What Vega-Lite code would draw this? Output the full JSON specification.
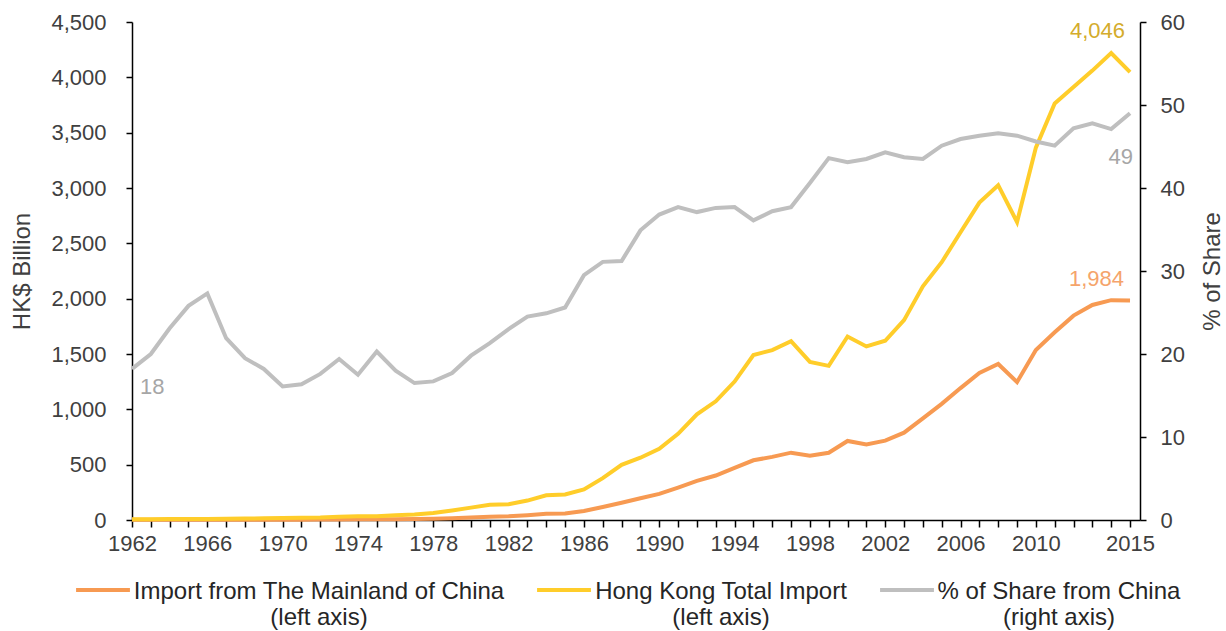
{
  "$schema": "https://vega.github.io/schema/vega-lite/v6.json",
  "width": 1008,
  "height": 498,
  "autosize": {"type": "none"},
  "padding": {"left": 132, "top": 22, "right": 86, "bottom": 111},
  "background": "white",
  "config": {
    "view": {"stroke": null},
    "font": "Liberation Sans",
    "axis": {
      "grid": false,
      "domainColor": "#000000",
      "domainWidth": 1.5,
      "tickColor": "#000000",
      "tickWidth": 1.5,
      "labelColor": "#404040",
      "labelFontSize": 22,
      "titleColor": "#404040",
      "titleFontSize": 24,
      "titleFontWeight": "normal"
    }
  },
  "data": {
    "values": [
      {"year": 1962, "china": 1.2, "total": 6.7, "share": 18.2},
      {"year": 1963, "china": 1.5, "total": 7.4, "share": 20.0},
      {"year": 1964, "china": 2.0, "total": 8.6, "share": 23.1},
      {"year": 1965, "china": 2.3, "total": 9.0, "share": 25.8},
      {"year": 1966, "china": 2.8, "total": 10.1, "share": 27.3},
      {"year": 1967, "china": 2.3, "total": 10.4, "share": 21.9},
      {"year": 1968, "china": 2.4, "total": 12.5, "share": 19.5},
      {"year": 1969, "china": 2.7, "total": 15.0, "share": 18.2},
      {"year": 1970, "china": 2.8, "total": 17.6, "share": 16.1},
      {"year": 1971, "china": 3.3, "total": 20.3, "share": 16.35},
      {"year": 1972, "china": 3.8, "total": 21.8, "share": 17.6},
      {"year": 1973, "china": 5.6, "total": 29.0, "share": 19.4},
      {"year": 1974, "china": 6.0, "total": 34.1, "share": 17.5},
      {"year": 1975, "china": 6.8, "total": 33.5, "share": 20.3},
      {"year": 1976, "china": 7.8, "total": 43.3, "share": 18.0},
      {"year": 1977, "china": 8.0, "total": 48.7, "share": 16.5},
      {"year": 1978, "china": 10.5, "total": 63.1, "share": 16.7},
      {"year": 1979, "china": 15.1, "total": 85.8, "share": 17.7},
      {"year": 1980, "china": 21.9, "total": 111.7, "share": 19.8},
      {"year": 1981, "china": 29.5, "total": 138.4, "share": 21.3},
      {"year": 1982, "china": 32.9, "total": 142.9, "share": 23.0},
      {"year": 1983, "china": 42.8, "total": 175.4, "share": 24.5},
      {"year": 1984, "china": 55.8, "total": 223.4, "share": 24.9},
      {"year": 1985, "china": 58.9, "total": 231.4, "share": 25.6},
      {"year": 1986, "china": 81.2, "total": 275.9, "share": 29.5},
      {"year": 1987, "china": 117.4, "total": 378.0, "share": 31.1},
      {"year": 1988, "china": 155.6, "total": 498.8, "share": 31.2},
      {"year": 1989, "china": 196.2, "total": 562.8, "share": 34.9},
      {"year": 1990, "china": 236.1, "total": 642.5, "share": 36.8},
      {"year": 1991, "china": 293.4, "total": 778.9, "share": 37.7},
      {"year": 1992, "china": 354.3, "total": 955.3, "share": 37.1},
      {"year": 1993, "china": 402.2, "total": 1072.6, "share": 37.6},
      {"year": 1994, "china": 470.9, "total": 1250.7, "share": 37.7},
      {"year": 1995, "china": 539.5, "total": 1491.1, "share": 36.1},
      {"year": 1996, "china": 570.4, "total": 1535.6, "share": 37.2},
      {"year": 1997, "china": 608.4, "total": 1615.1, "share": 37.7},
      {"year": 1998, "china": 580.6, "total": 1429.1, "share": 40.6},
      {"year": 1999, "china": 607.5, "total": 1392.7, "share": 43.6},
      {"year": 2000, "china": 714.0, "total": 1657.9, "share": 43.1},
      {"year": 2001, "china": 681.9, "total": 1568.2, "share": 43.5},
      {"year": 2002, "china": 717.1, "total": 1619.4, "share": 44.3},
      {"year": 2003, "china": 789.3, "total": 1805.8, "share": 43.7},
      {"year": 2004, "china": 918.5, "total": 2111.1, "share": 43.5},
      {"year": 2005, "china": 1049.3, "total": 2329.5, "share": 45.1},
      {"year": 2006, "china": 1192.0, "total": 2599.8, "share": 45.9},
      {"year": 2007, "china": 1328.0, "total": 2868.0, "share": 46.3},
      {"year": 2008, "china": 1410.2, "total": 3025.3, "share": 46.6},
      {"year": 2009, "china": 1245.6, "total": 2692.4, "share": 46.3},
      {"year": 2010, "china": 1535.8, "total": 3364.8, "share": 45.6},
      {"year": 2011, "china": 1696.1, "total": 3764.6, "share": 45.1},
      {"year": 2012, "china": 1846.7, "total": 3912.2, "share": 47.2},
      {"year": 2013, "china": 1942.9, "total": 4060.7, "share": 47.8},
      {"year": 2014, "china": 1986.7, "total": 4219.0, "share": 47.1},
      {"year": 2015, "china": 1983.5, "total": 4046.4, "share": 49.0}
    ]
  },
  "encoding": {
    "x": {
      "field": "year",
      "type": "quantitative",
      "scale": {"domain": [1962, 2015.53], "nice": false, "zero": false},
      "axis": {
        "title": null,
        "values": [1962,1963,1964,1965,1966,1967,1968,1969,1970,1971,1972,1973,1974,1975,1976,1977,1978,1979,1980,1981,1982,1983,1984,1985,1986,1987,1988,1989,1990,1991,1992,1993,1994,1995,1996,1997,1998,1999,2000,2001,2002,2003,2004,2005,2006,2007,2008,2009,2010,2011,2012,2013,2014,2015],
        "format": "d",
        "labelExpr": "((datum.value <= 2010 && (datum.value - 1962) % 4 == 0) || datum.value == 2015) ? datum.label : ''",
        "labelOverlap": false,
        "labelFlush": false,
        "tickSize": 7,
        "labelPadding": 6
      }
    }
  },
  "layer": [
    {
      "transform": [{"fold": ["china", "total"], "as": ["series", "value"]}],
      "encoding": {
        "y": {
          "field": "value",
          "type": "quantitative",
          "scale": {"domain": [0, 4500], "nice": false},
          "axis": {
            "orient": "left",
            "title": "HK$ Billion",
            "values": [0, 500, 1000, 1500, 2000, 2500, 3000, 3500, 4000, 4500],
            "format": ",.0f",
            "tickSize": 6,
            "labelPadding": 20,
            "titlePadding": 16
          }
        }
      },
      "layer": [
        {
          "mark": {"type": "line", "strokeWidth": 4},
          "encoding": {
            "color": {
              "field": "series",
              "type": "nominal",
              "scale": {"domain": ["china", "total", "share"], "range": ["#F79A52", "#FFCD2A", "#BFBFBF"]},
              "legend": {
                "title": null,
                "orient": "none",
                "legendX": -58,
                "legendY": 539,
                "direction": "horizontal",
                "columns": 3,
                "columnPadding": 24,
                "symbolType": "stroke",
                "symbolSize": 2900,
                "symbolStrokeWidth": 4,
                "labelOffset": 2,
                "labelFontSize": 24,
                "labelColor": "#262626",
                "labelLimit": 600,
                "labelBaseline": "top",
                "labelExpr": "datum.value == 'china' ? ['Import from The Mainland of China', '(left axis)'] : datum.value == 'total' ? ['Hong Kong Total Import', '(left axis)'] : ['% of Share from China', '(right axis)']",
                "encode": {
                  "labels": {
                    "update": {
                      "dy": {"value": -10},
                      "align": {"value": "center"},
                      "dx": {"signal": "datum.value == 'china' ? 185 : datum.value == 'total' ? 126 : 121"}
                    }
                  }
                }
              }
            }
          }
        },
        {
          "transform": [{"filter": "datum.year == 2015 && datum.series == 'total'"}],
          "mark": {"type": "text", "align": "right", "baseline": "alphabetic", "dx": -5, "dy": -34, "fontSize": 22, "color": "#D4AC2C"},
          "encoding": {"text": {"field": "value", "type": "quantitative", "format": ",.0f"}}
        },
        {
          "transform": [{"filter": "datum.year == 2015 && datum.series == 'china'"}],
          "mark": {"type": "text", "align": "right", "baseline": "alphabetic", "dx": -6, "dy": -14, "fontSize": 22, "color": "#F5A46B"},
          "encoding": {"text": {"field": "value", "type": "quantitative", "format": ",.0f"}}
        }
      ]
    },
    {
      "transform": [{"fold": ["share"], "as": ["series", "value"]}],
      "encoding": {
        "y": {
          "field": "value",
          "type": "quantitative",
          "scale": {"domain": [0, 60], "nice": false},
          "axis": {
            "orient": "right",
            "title": "% of Share",
            "titleAngle": -90,
            "values": [0, 10, 20, 30, 40, 50, 60],
            "tickSize": 6,
            "labelPadding": 14,
            "titlePadding": 40
          }
        }
      },
      "layer": [
        {
          "mark": {"type": "line", "strokeWidth": 4},
          "encoding": {"color": {"field": "series", "type": "nominal"}}
        },
        {
          "transform": [{"filter": "datum.year == 1962"}],
          "mark": {"type": "text", "align": "left", "baseline": "top", "dx": 8, "dy": 8, "fontSize": 22, "color": "#A6A6A6"},
          "encoding": {"text": {"field": "value", "type": "quantitative", "format": ".0f"}}
        },
        {
          "transform": [{"filter": "datum.year == 2015"}],
          "mark": {"type": "text", "align": "right", "baseline": "top", "dx": 3, "dy": 34, "fontSize": 22, "color": "#A6A6A6"},
          "encoding": {"text": {"field": "value", "type": "quantitative", "format": ".0f"}}
        }
      ]
    }
  ],
  "resolve": {"scale": {"y": "independent"}}
}
